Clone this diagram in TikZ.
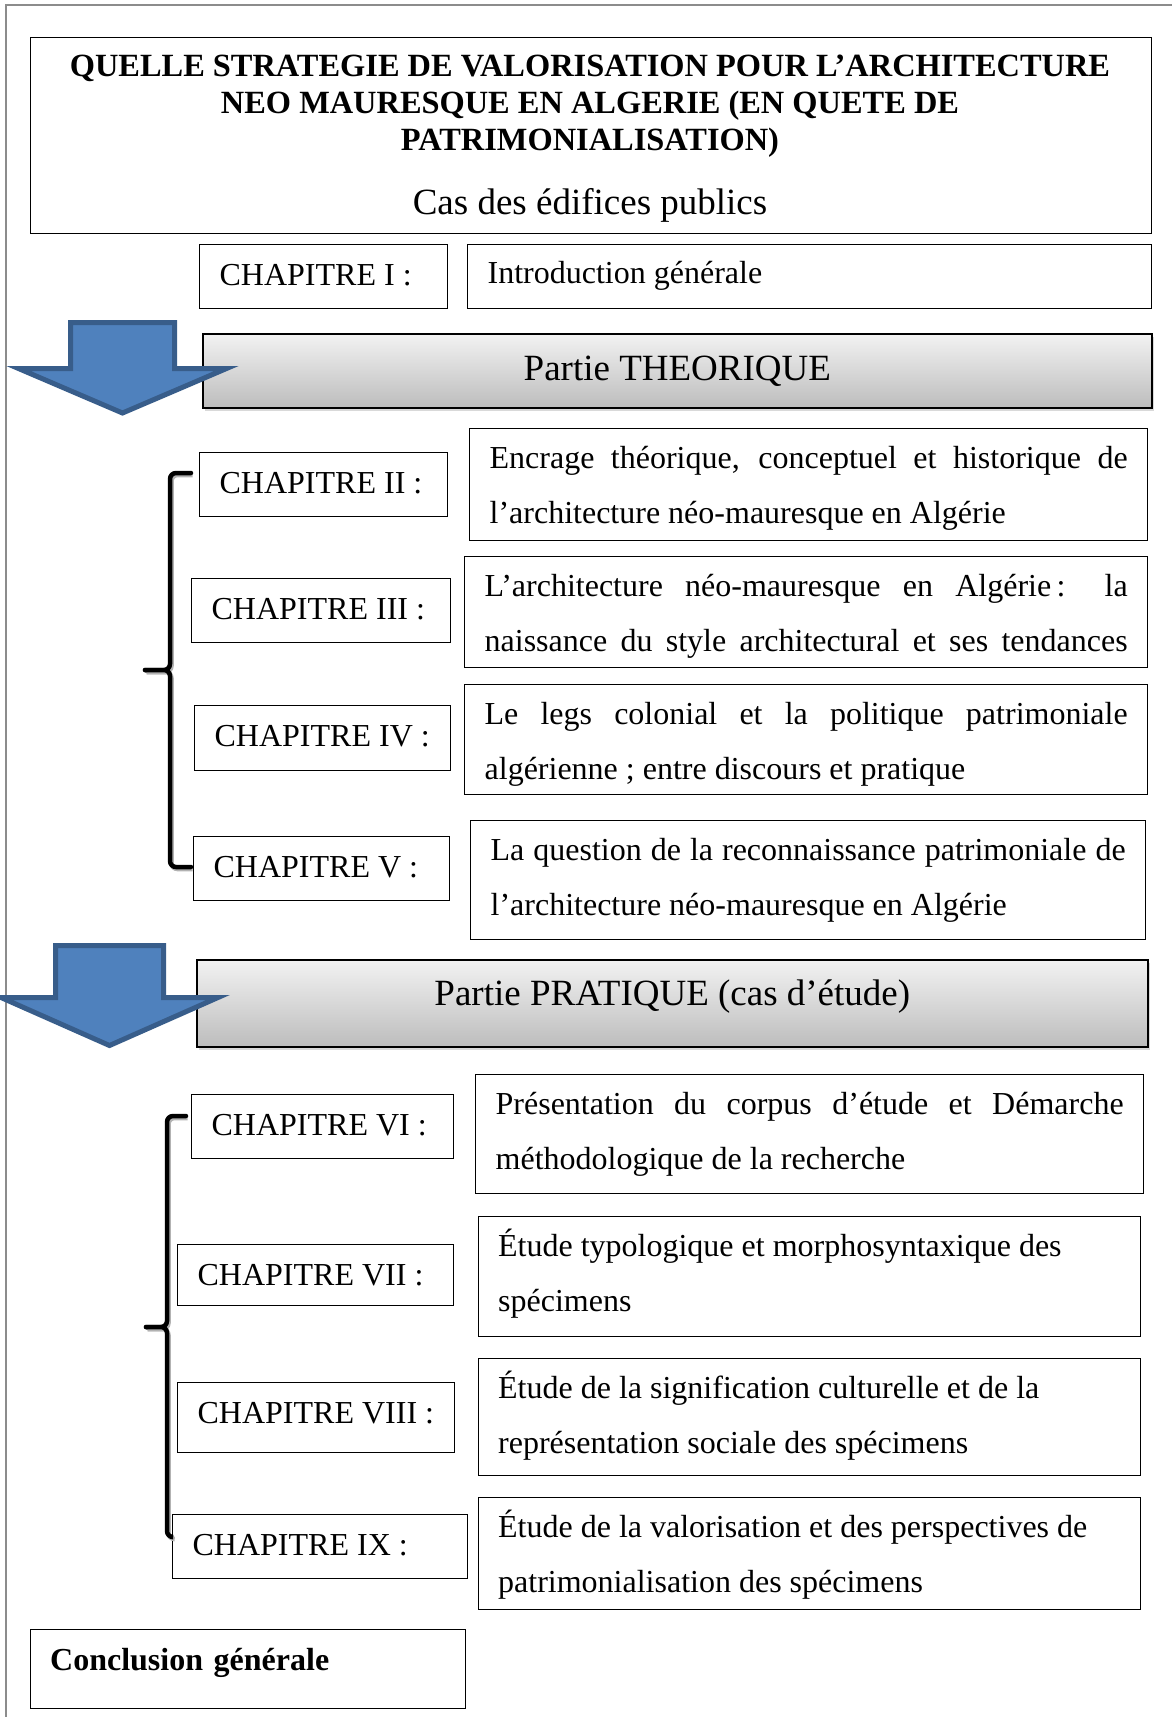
\documentclass[tikz,border=0pt]{standalone}
\usepackage{fontspec}
\setmainfont{Liberation Serif}
\usetikzlibrary{shadows}
\definecolor{bleuF}{HTML}{4F81BD}
\definecolor{bleuB}{HTML}{385D8A}
% justified line, two-line box text with fixed top and bottom room
\newcommand{\jline}[1]{\makebox[\hsize][s]{#1}}
\newcommand{\desctxt}[3]{\rule{0pt}{39.5pt}#1\\#2\rule[-#3]{0pt}{#3}}

\begin{document}
\begin{tikzpicture}[
		x=1pt, y=-1pt,
		cadre/.style    = {draw=gray!90, line width=2pt},
		boite/.style    = {draw, line width=1.3pt, anchor=north west, inner ysep=0pt},
		chap/.style     = {boite, inner xsep=20pt, align=justify, text width=#1,
		                   text height=40.5pt, text depth=23.5pt,
		                   font=\fontsize{32}{38}\selectfont},
		desc/.style     = {boite, inner xsep=20pt, align=justify, text width=#1,
		                   font=\fontsize{32}{55}\selectfont},
		bandeau/.style  = {boite, line width=1.6pt, top color=gray!10, bottom color=gray!52,
		                   drop shadow={shadow xshift=2pt, shadow yshift=-3pt, opacity=0.3},
		                   font=\fontsize{37}{44}\selectfont},
		fleche/.style   = {fill=bleuF, draw=bleuB, line width=5pt},
		accolade/.style = {line width=4.5pt, rounded corners=6pt, line cap=round,
		                   preaction={draw=black!30, line width=4.5pt,
		                   transform canvas={xshift=1.5pt, yshift=-2pt}}}
		]
		\useasboundingbox (0,0) rectangle (1172,1717);
		\draw[cadre] (6,1725) -- (6,5) -- (1180,5);
		
		% Titre
		\node[boite, minimum width=1121.5, minimum height=196] (titre) at (29.5,37) {};
		\node[anchor=north, align=center, inner sep=0pt, font=\bfseries\fontsize{32.4}{37}\selectfont]
			(titreA) at (590,55) {\spaceskip=0pt\xspaceskip=0pt
			QUELLE STRATEGIE DE VALORISATION POUR L’ARCHITECTURE\\
			NEO MAURESQUE EN ALGERIE (EN QUETE DE\\ PATRIMONIALISATION)};
		\node[anchor=base, inner sep=0pt, font=\fontsize{37}{44}\selectfont]
			(titreB) at (590,214) {Cas des édifices publics};
		
		\node[chap=208pt] (ch1) at (199,244) {CHAPITRE I :};
		\node[chap=644pt, text height=38.5pt, text depth=25.5pt] (intro) at (467,244) {Introduction générale};
		
		% Partie theorique
		\node[bandeau, minimum width=949, minimum height=74] (theo) at (202,333) {Partie THEORIQUE};
		\draw[fleche, shift={(122.5,322.5)}] (-52,0) -- (52,0) -- (52,46) -- (104,46)
			-- (0,90.5) -- (-104,46) -- (-52,46) -- cycle;
		
		\node[chap=208pt] (ch2) at (199,452) {CHAPITRE II :};
		\node[chap=219pt] (ch3) at (191,578) {CHAPITRE III :};
		\node[chap=216pt, text depth=24.5pt] (ch4) at (194,705) {CHAPITRE IV :};
		\node[chap=216pt] (ch5) at (193,836) {CHAPITRE V :};
		
		\node[desc=638pt] (d2) at (469,428)
			{\desctxt{\jline{Encrage théorique, conceptuel et historique de}}
			{l’architecture néo-mauresque en Algérie}{17.5pt}};
		\node[desc=643pt] (d3) at (464,556)
			{\desctxt{\jline{L’architecture néo-mauresque en Algérie\,: la}}
			{\jline{naissance du style architectural et ses tendances}}{16.5pt}};
		\node[desc=643pt] (d4) at (464,684)
			{\desctxt{\jline{Le legs colonial et la politique patrimoniale}}
			{algérienne ; entre discours et pratique}{15.5pt}};
		\node[desc=635pt] (d5) at (470,820)
			{\desctxt{\jline{La question de la reconnaissance patrimoniale de}}
			{l’architecture néo-mauresque en Algérie}{24.5pt}};
		
		\coordinate (acc1h) at (191,473);
		\coordinate (acc1v) at (170,670);
		\coordinate (acc1m) at (145,670);
		\coordinate (acc1b) at (191,867);
		\draw[accolade] (acc1h) -| (acc1v) -- (acc1m);
		\draw[accolade] (acc1b) -| (acc1v) -- (acc1m);
		
		% Partie pratique
		\node[bandeau, minimum width=951, minimum height=87, text height=25.5pt, text depth=21pt]
			(prat) at (196,959) {Partie PRATIQUE (cas d’étude)};
		\draw[fleche, shift={(109.5,945.5)}] (-54,0) -- (54,0) -- (54,52) -- (108.5,52)
			-- (0,100) -- (-108.5,52) -- (-54,52) -- cycle;
		
		\node[chap=222pt] (ch6) at (191,1094) {CHAPITRE VI :};
		\node[chap=236pt, text depth=20.5pt] (ch7) at (177,1244) {CHAPITRE VII :};
		\node[chap=237pt, text depth=29.5pt] (ch8) at (177,1382) {CHAPITRE VIII :};
		\node[chap=255pt] (ch9) at (172,1514) {CHAPITRE IX :};
		
		\node[desc=628pt] (d6) at (475,1074)
			{\desctxt{\jline{Présentation du corpus d’étude et Démarche}}
			{méthodologique de la recherche}{24.5pt}};
		\node[desc=622.5pt] (d7) at (477.5,1216)
			{\desctxt{Étude typologique et morphosyntaxique des}{spécimens}{25.5pt}};
		\node[desc=622.5pt] (d8) at (477.5,1358)
			{\desctxt{Étude de la signification culturelle et de la}
			{représentation sociale des spécimens}{22.5pt}};
		\node[desc=622.5pt] (d9) at (477.5,1497)
			{\desctxt{Étude de la valorisation et des perspectives de}
			{patrimonialisation des spécimens}{17.5pt}};
		
		\coordinate (acc2h) at (186,1116);
		\coordinate (acc2v) at (167,1327);
		\coordinate (acc2m) at (146,1327);
		\coordinate (acc2b) at (172,1537);
		\draw[accolade] (acc2h) -| (acc2v) -- (acc2m);
		\draw[accolade] (acc2b) -| (acc2v) -- (acc2m);
		
		% Conclusion
		\node[boite, inner xsep=20pt, inner ysep=19pt, text width=395.5pt, align=left,
			text height=22pt, text depth=19pt, font=\bfseries\fontsize{32}{38}\selectfont]
			(concl) at (29.5,1629) {Conclusion générale};
	\end{tikzpicture}
\end{document}
